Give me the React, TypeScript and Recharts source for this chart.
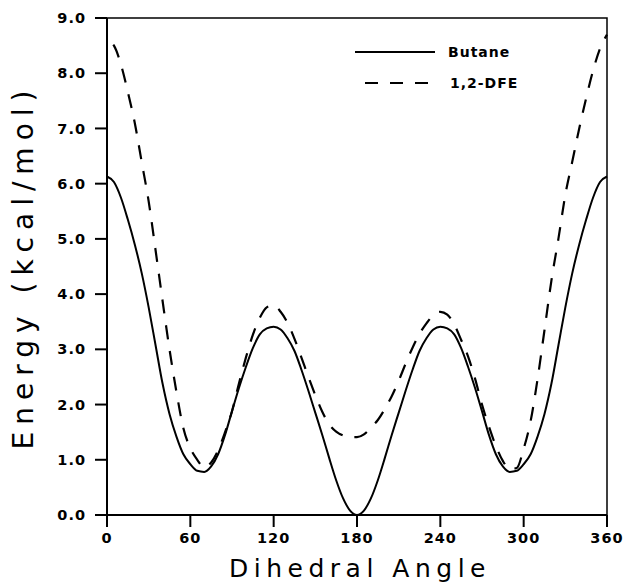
import { LineChart, Line, XAxis, YAxis, ReferenceArea, Legend, Label } from 'recharts'

const ANGLES = [
  0, 5, 10, 15, 20, 25, 30, 35, 40, 45, 50, 55, 60, 65, 70, 75, 80, 85, 90,
  95, 100, 105, 110, 115, 120, 125, 130, 135, 140, 145, 150, 155, 160, 165, 170, 175, 180,
  185, 190, 195, 200, 205, 210, 215, 220, 225, 230, 235, 240, 245, 250, 255, 260, 265, 270,
  275, 280, 285, 290, 295, 300, 305, 310, 315, 320, 325, 330, 335, 340, 345, 350, 355, 360,
]

const BUTANE = [
  6.13, 6.03, 5.75, 5.35, 4.9, 4.38, 3.76, 3.07, 2.38, 1.83, 1.42, 1.1, 0.92, 0.8, 0.78, 0.88, 1.1, 1.45, 1.88,
  2.3, 2.68, 3.02, 3.27, 3.38, 3.41, 3.36, 3.2, 2.97, 2.63, 2.25, 1.85, 1.45, 1.03, 0.63, 0.3, 0.08, 0,
  0.08, 0.3, 0.63, 1.03, 1.45, 1.85, 2.25, 2.63, 2.97, 3.2, 3.36, 3.41, 3.38, 3.27, 3.02, 2.68, 2.3, 1.88,
  1.45, 1.1, 0.88, 0.78, 0.8, 0.92, 1.1, 1.42, 1.83, 2.38, 3.07, 3.76, 4.38, 4.9, 5.35, 5.75, 6.03, 6.13,
]

const DFE = [
  8.6, 8.5, 8.16, 7.66, 7.1, 6.39, 5.68, 4.79, 3.88, 3.0, 2.23, 1.57, 1.21, 1.0, 0.86, 0.95, 1.17, 1.5, 1.88,
  2.38, 2.85, 3.26, 3.57, 3.76, 3.8, 3.68, 3.48, 3.19, 2.85, 2.5, 2.17, 1.87, 1.64, 1.51, 1.44, 1.41, 1.41,
  1.46, 1.58, 1.72, 1.92, 2.15, 2.43, 2.74, 3.03, 3.28, 3.47, 3.62, 3.68, 3.63, 3.45, 3.17, 2.87, 2.47, 2.0,
  1.6, 1.25, 0.98, 0.83, 0.85, 1.2, 1.7, 2.46, 3.35, 4.25, 5.0, 5.8, 6.4, 7.0, 7.55, 8.05, 8.45, 8.7,
]

const X_TICKS = [0, 60, 120, 180, 240, 300, 360]
const Y_TICKS = [0, 1, 2, 3, 4, 5, 6, 7, 8, 9]

const data = ANGLES.map((angle, i) => ({ angle, butane: BUTANE[i], dfe: DFE[i] }))

const tickStyle = {
  fill: '#000',
  fontSize: 14.5,
  fontWeight: 'bold',
  fontFamily: 'DejaVu Sans',
  letterSpacing: 1,
}

function YTitle({ viewBox }: any) {
  const cy = viewBox.y + viewBox.height / 2
  return (
    <text
      x={23}
      y={cy}
      transform={`rotate(-90, 23, ${cy})`}
      textAnchor="middle"
      dominantBaseline="central"
      fontFamily="DejaVu Sans"
      fontSize={28}
      letterSpacing={7}
      fill="#000"
    >
      Energy (kcal/mol)
    </text>
  )
}

function XTitle({ viewBox }: any) {
  const cx = viewBox.x + viewBox.width / 2
  return (
    <text
      x={cx + 3}
      y={577}
      textAnchor="middle"
      fontFamily="DejaVu Sans"
      fontSize={25}
      letterSpacing={5.5}
      fill="#000"
    >
      Dihedral Angle
    </text>
  )
}

function LegendBox() {
  const font = { fontFamily: 'DejaVu Sans', fontSize: 14, fontWeight: 'bold' as const, letterSpacing: 1 }
  return (
    <svg width={200} height={60}>
      <line x1={5} y1={14} x2={85} y2={14} stroke="#000" strokeWidth={2} />
      <text x={98} y={14} dominantBaseline="central" {...font}>Butane</text>
      <line x1={15} y1={45} x2={80} y2={45} stroke="#000" strokeWidth={2} strokeDasharray="13 12" />
      <text x={100} y={45} dominantBaseline="central" {...font}>1,2-DFE</text>
    </svg>
  )
}

export default function App() {
  return (
    <div style={{ position: 'absolute', left: 0, top: 0, background: '#fff' }}>
      <LineChart width={626} height={582} data={data} margin={{ top: 18, right: 19, bottom: 0, left: 0 }}>
        <XAxis
          dataKey="angle"
          type="number"
          domain={[0, 360]}
          ticks={X_TICKS}
          height={67}
          tickSize={12}
          tickMargin={6}
          tick={tickStyle}
          axisLine={{ stroke: '#000', strokeWidth: 2 }}
          tickLine={{ stroke: '#000', strokeWidth: 2 }}
        >
          <Label content={XTitle} />
        </XAxis>
        <YAxis
          type="number"
          domain={[0, 9]}
          ticks={Y_TICKS}
          width={107}
          tickSize={12}
          tickMargin={9}
          tick={tickStyle}
          tickFormatter={(v: number) => v.toFixed(1)}
          axisLine={{ stroke: '#000', strokeWidth: 2 }}
          tickLine={{ stroke: '#000', strokeWidth: 2 }}
        >
          <Label content={YTitle} />
        </YAxis>
        <ReferenceArea x1={0} x2={360} y1={0} y2={9} fill="none" stroke="#000" strokeWidth={1.5} />
        <Line
          type="monotone"
          dataKey="butane"
          stroke="#000"
          strokeWidth={2}
          dot={false}
          isAnimationActive={false}
        />
        <Line
          type="monotone"
          dataKey="dfe"
          stroke="#000"
          strokeWidth={2.2}
          strokeDasharray="14 12"
          strokeDashoffset={18}
          dot={false}
          isAnimationActive={false}
        />
        <Legend
          layout="horizontal"
          verticalAlign="middle"
          align="center"
          content={LegendBox}
          wrapperStyle={{ left: 350, top: 38, width: 200 }}
        />
      </LineChart>
    </div>
  )
}
